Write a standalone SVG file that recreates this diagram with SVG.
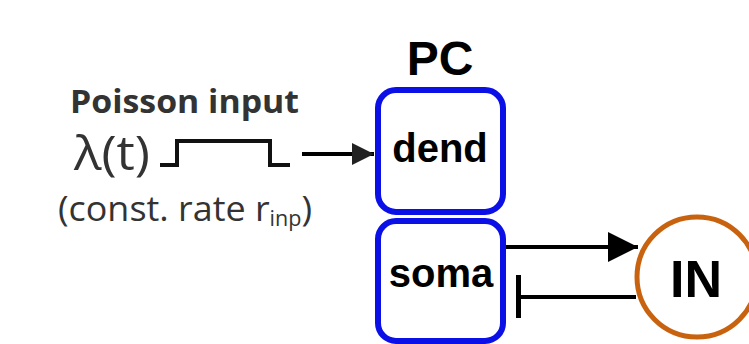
<svg xmlns="http://www.w3.org/2000/svg" width="749" height="344" viewBox="0 0 749 344">
  <style>
    .lbl { font-family: "Open Sans", "Liberation Sans", sans-serif; fill: #333333; }
    .node-txt { font-family: "Liberation Sans", Arial, sans-serif; font-weight: bold; fill: #000000; }
    .comp { fill: #ffffff; stroke: #0a10e6; stroke-width: 6; }
    .wire { fill: none; stroke: #000000; stroke-width: 4; }
  </style>
  <defs>
    <marker id="head" viewBox="0 0 10 10" refX="10" refY="5" markerWidth="7.5" markerHeight="7.5" markerUnits="strokeWidth" orient="auto">
      <path d="M0,0 L10,5 L0,10 z" fill="#000000"/>
    </marker>
    <marker id="headSmall" viewBox="0 0 10 10" refX="10" refY="5" markerWidth="6.5" markerHeight="5.5" markerUnits="strokeWidth" orient="auto">
      <path d="M0,0 L10,5 L0,10 z" fill="#222222"/>
    </marker>
  </defs>
  <rect width="749" height="344" fill="#ffffff"/>

  <!-- input source -->
  <g id="poisson-input">
    <text class="lbl" x="70" y="113" font-size="32" font-weight="bold" textLength="229" lengthAdjust="spacingAndGlyphs">Poisson input</text>
    <text class="lbl" x="74" y="170" font-size="47" textLength="76" lengthAdjust="spacingAndGlyphs">λ(t)</text>
    <path d="M160,165 H177 V141 H270 V165 H290" fill="none" stroke="#111111" stroke-width="4"/>
    <text class="lbl" x="58" y="221" font-size="35" textLength="254" lengthAdjust="spacingAndGlyphs">(const. rate r<tspan font-size="21" dy="5">inp</tspan><tspan dy="-5">)</tspan></text>
  </g>

  <!-- pyramidal cell: two compartments -->
  <g id="pc">
    <text class="node-txt" x="440" y="75" font-size="48" text-anchor="middle">PC</text>
    <g id="dend">
      <rect class="comp" x="378" y="90" width="125" height="122" rx="18"/>
      <text class="node-txt" x="440" y="162" font-size="40" text-anchor="middle">dend</text>
    </g>
    <g id="soma">
      <rect class="comp" x="378" y="221" width="125" height="120" rx="18"/>
      <text class="node-txt" x="441" y="287" font-size="40" text-anchor="middle">soma</text>
    </g>
  </g>

  <!-- interneuron -->
  <g id="in">
    <circle cx="697" cy="277" r="60" fill="#ffffff" stroke="#c8620f" stroke-width="5"/>
    <text class="node-txt" x="696" y="297" font-size="52" text-anchor="middle">IN</text>
  </g>

  <!-- connectors -->
  <g id="connectors">
    <line class="wire" x1="302" y1="154" x2="374" y2="154" marker-end="url(#headSmall)" stroke="#222222"/>
    <line class="wire" x1="506" y1="247" x2="638" y2="247" marker-end="url(#head)"/>
    <line class="wire" x1="520" y1="297" x2="636" y2="297"/>
    <line x1="518.5" y1="275" x2="518.5" y2="318" stroke="#000000" stroke-width="5"/>
  </g>
</svg>
